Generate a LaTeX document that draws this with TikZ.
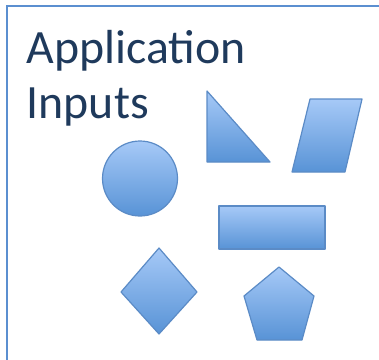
\documentclass[tikz,border=0pt]{standalone}
\usepackage{fontspec}
\setmainfont{Carlito}
\definecolor{shtop}{HTML}{A6C9F7}
\definecolor{shbot}{HTML}{5893D6}
\definecolor{shline}{HTML}{5B8BC6}
\definecolor{txt}{HTML}{1F3A5C}
\definecolor{frame}{HTML}{5B8FD0}
\begin{document}
\begin{tikzpicture}[x=1pt,y=-1pt,
  shp/.style={draw=shline,line width=1.2pt,line join=round,top color=shtop,bottom color=shbot},
  ttl/.style={inner sep=0pt,anchor=base west,text=txt,font=\fontsize{47.8}{55}\selectfont}]
\useasboundingbox (0,0) rectangle (379,359);
\draw[frame,line width=2.8pt] (7,362) -- (7,6) -- (382,6);
\node[ttl] (t1) at (26.5,63) {Application};
\node[ttl] (t2) at (26.5,118) {Inputs};
% triangle
\path[shp] (207,91) -- (207,162) -- (270,162) -- cycle;
% parallelogram
\path[shp] (310,99) -- (362,99) -- (345,172) -- (292,172) -- cycle;
% circle
\path[shp] (140,178.5) circle[radius=37.5];
% rectangle
\path[shp] (219,206) rectangle (325,249);
% diamond
\path[shp] (159,248) -- (197,292) -- (159,334) -- (121,292) -- cycle;
% pentagon
\path[shp] (279,267) -- (314,296) -- (302,340) -- (257,340) -- (244,296) -- cycle;
\end{tikzpicture}
\end{document}
